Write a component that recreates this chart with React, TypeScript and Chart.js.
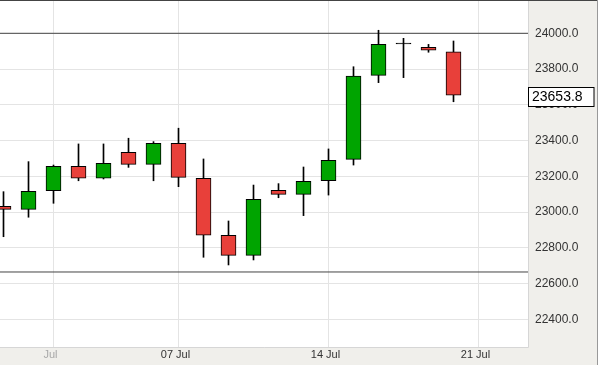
import React, { useEffect, useRef } from "react";
import { Chart, registerables } from "chart.js";

Chart.register(...registerables);

// Trading-day slots (0 = Sun 29 Jun ... 18 = Sun 20 Jul)
const slots = [0, 1, 2, 3, 4, 5, 6, 7, 8, 9, 10, 11, 12, 13, 14, 15, 16, 17, 18];
const opens = [23032, 23015, 23119, 23256, 23189, 23334, 23267, 23385, 23189, 22870, 22758, 23122, 23099, 23175, 23295, 23765, 23940, 23922, 23897];
const highs = [23114, 23282, 23263, 23381, 23381, 23413, 23394, 23469, 23297, 22950, 23151, 23159, 23252, 23353, 23813, 24017, 23972, 23938, 23957];
const lows = [22862, 22971, 23049, 23175, 23185, 23250, 23175, 23142, 22747, 22704, 22732, 23080, 22980, 23095, 23263, 23724, 23752, 23894, 23617];
const closes = [23015, 23116, 23256, 23189, 23273, 23267, 23385, 23194, 22870, 22758, 23071, 23099, 23172, 23290, 23761, 23938, 23940, 23905, 23653.8];

const xTickSlots = [2, 7, 13, 19];
const xTickLabels = ["Jul", "07 Jul", "14 Jul", "21 Jul"];
const levelLines = [24000, 22664.6];

const X_MIN = -0.14;
const X_MAX = 20.98;
const Y_MIN = 22245;
const Y_MAX = 24180.7;

const GREEN = "#00a400";
const RED = "#e8403a";
const PANEL = "#f0efeb";
const FONT = "'Liberation Sans', Arial, sans-serif";

const bgPlugin = {
  id: "bgPlugin",
  beforeDraw(chart: any) {
    const { ctx, chartArea, width, height } = chart;
    ctx.save();
    ctx.fillStyle = PANEL;
    ctx.fillRect(0, 0, width, height);
    ctx.fillStyle = "#ffffff";
    ctx.fillRect(chartArea.left, chartArea.top, chartArea.right - chartArea.left, chartArea.bottom - chartArea.top);
    ctx.restore();
  },
  afterDraw(chart: any) {
    const { ctx, chartArea, width, scales } = chart;
    ctx.save();
    ctx.strokeStyle = "#d6d6d6";
    ctx.lineWidth = 1;
    ctx.beginPath();
    ctx.moveTo(chartArea.right + 0.5, chartArea.top);
    ctx.lineTo(chartArea.right + 0.5, chartArea.bottom + 0.5);
    ctx.lineTo(chartArea.left, chartArea.bottom + 0.5);
    ctx.stroke();
    ctx.strokeStyle = "#444";
    ctx.beginPath();
    ctx.moveTo(0, 0.5);
    ctx.lineTo(width, 0.5);
    ctx.stroke();
    ctx.strokeStyle = "#999";
    ctx.beginPath();
    ctx.moveTo(width - 0.5, 0);
    ctx.lineTo(width - 0.5, chart.height);
    ctx.stroke();
    const last = closes[closes.length - 1];
    const y = Math.round(scales.y.getPixelForValue(last));
    const left = chartArea.right + 0.5;
    const top = y - 8 + 0.5;
    ctx.fillStyle = "#ffffff";
    ctx.fillRect(left, top, 594 - left, 19);
    ctx.strokeStyle = "#000";
    ctx.strokeRect(left, top, 594 - left, 19);
    ctx.fillStyle = "#000";
    ctx.font = `14px ${FONT}`;
    ctx.textBaseline = "middle";
    ctx.textAlign = "left";
    ctx.fillText(last.toFixed(1), 532, top + 10);
    ctx.restore();
  },
};

export default function App() {
  const ref = useRef<HTMLCanvasElement>(null);

  useEffect(() => {
    if (!ref.current) return;
    const bodyColors = slots.map((_, i) =>
      closes[i] > opens[i] ? GREEN : closes[i] < opens[i] ? RED : "#000"
    );
    const chart = new Chart(ref.current, {
      type: "bar",
      data: {
        datasets: [
          {
            type: "bar",
            label: "body",
            data: slots.map((s, i) => ({ x: s, y: [opens[i], closes[i]] })) as any,
            backgroundColor: bodyColors,
            borderColor: "#000",
            borderWidth: 1,
            borderSkipped: false,
            barThickness: 15,
            minBarLength: 1,
            grouped: false,
            order: 0,
          } as any,
          {
            type: "bar",
            label: "wick",
            data: slots.map((s, i) => ({ x: s, y: [lows[i], highs[i]] })) as any,
            backgroundColor: "#000",
            borderWidth: 0,
            barThickness: 1,
            grouped: false,
            order: 1,
          } as any,
          ...levelLines.map((v) => ({
            type: "line",
            label: "level",
            data: [
              { x: X_MIN, y: v },
              { x: X_MAX, y: v },
            ],
            borderColor: "#444",
            borderWidth: 1,
            pointRadius: 0,
            order: 2,
          })) as any,
        ],
      },
      options: {
        animation: false,
        responsive: false,
        layout: { padding: { top: 1, left: 0, right: 0, bottom: 0 } },
        plugins: {
          legend: { display: false },
          tooltip: { enabled: false },
        },
        scales: {
          x: {
            type: "linear",
            min: X_MIN,
            max: X_MAX,
            offset: false,
            grid: { color: "#e4e4e4", drawTicks: false, offset: false },
            border: { display: false },
            afterBuildTicks: (scale: any) => {
              scale.ticks = xTickSlots.map((v) => ({ value: v }));
            },
            afterFit: (scale: any) => {
              scale.height = 18;
              scale.paddingLeft = 0;
              scale.paddingRight = 0;
            },
            ticks: {
              autoSkip: false,
              maxRotation: 0,
              padding: 1,
              labelOffset: -3,
              font: { family: FONT, size: 11 },
              color: (ctx: any) => (ctx.tick && ctx.tick.value === xTickSlots[0] ? "#a8a8a8" : "#333"),
              callback: (v: any) => {
                const k = xTickSlots.indexOf(Number(v));
                return k >= 0 ? xTickLabels[k] : "";
              },
            },
          },
          y: {
            type: "linear",
            position: "right",
            min: Y_MIN,
            max: Y_MAX,
            grid: { color: "#e4e4e4", drawTicks: false },
            border: { display: false },
            afterFit: (scale: any) => {
              scale.width = 70;
              scale.paddingTop = 0;
              scale.paddingBottom = 0;
            },
            ticks: {
              stepSize: 200,
              includeBounds: false,
              padding: 7,
              font: { family: FONT, size: 12 },
              color: "#333",
              callback: (v: any) => Number(v).toFixed(1),
            },
          },
        },
      },
      plugins: [bgPlugin],
    });
    return () => chart.destroy();
  }, []);

  return (
    <div style={{ position: "absolute", left: 0, top: 0, width: 598, height: 365 }}>
      <canvas ref={ref} width={598} height={365} style={{ display: "block" }} />
    </div>
  );
}
